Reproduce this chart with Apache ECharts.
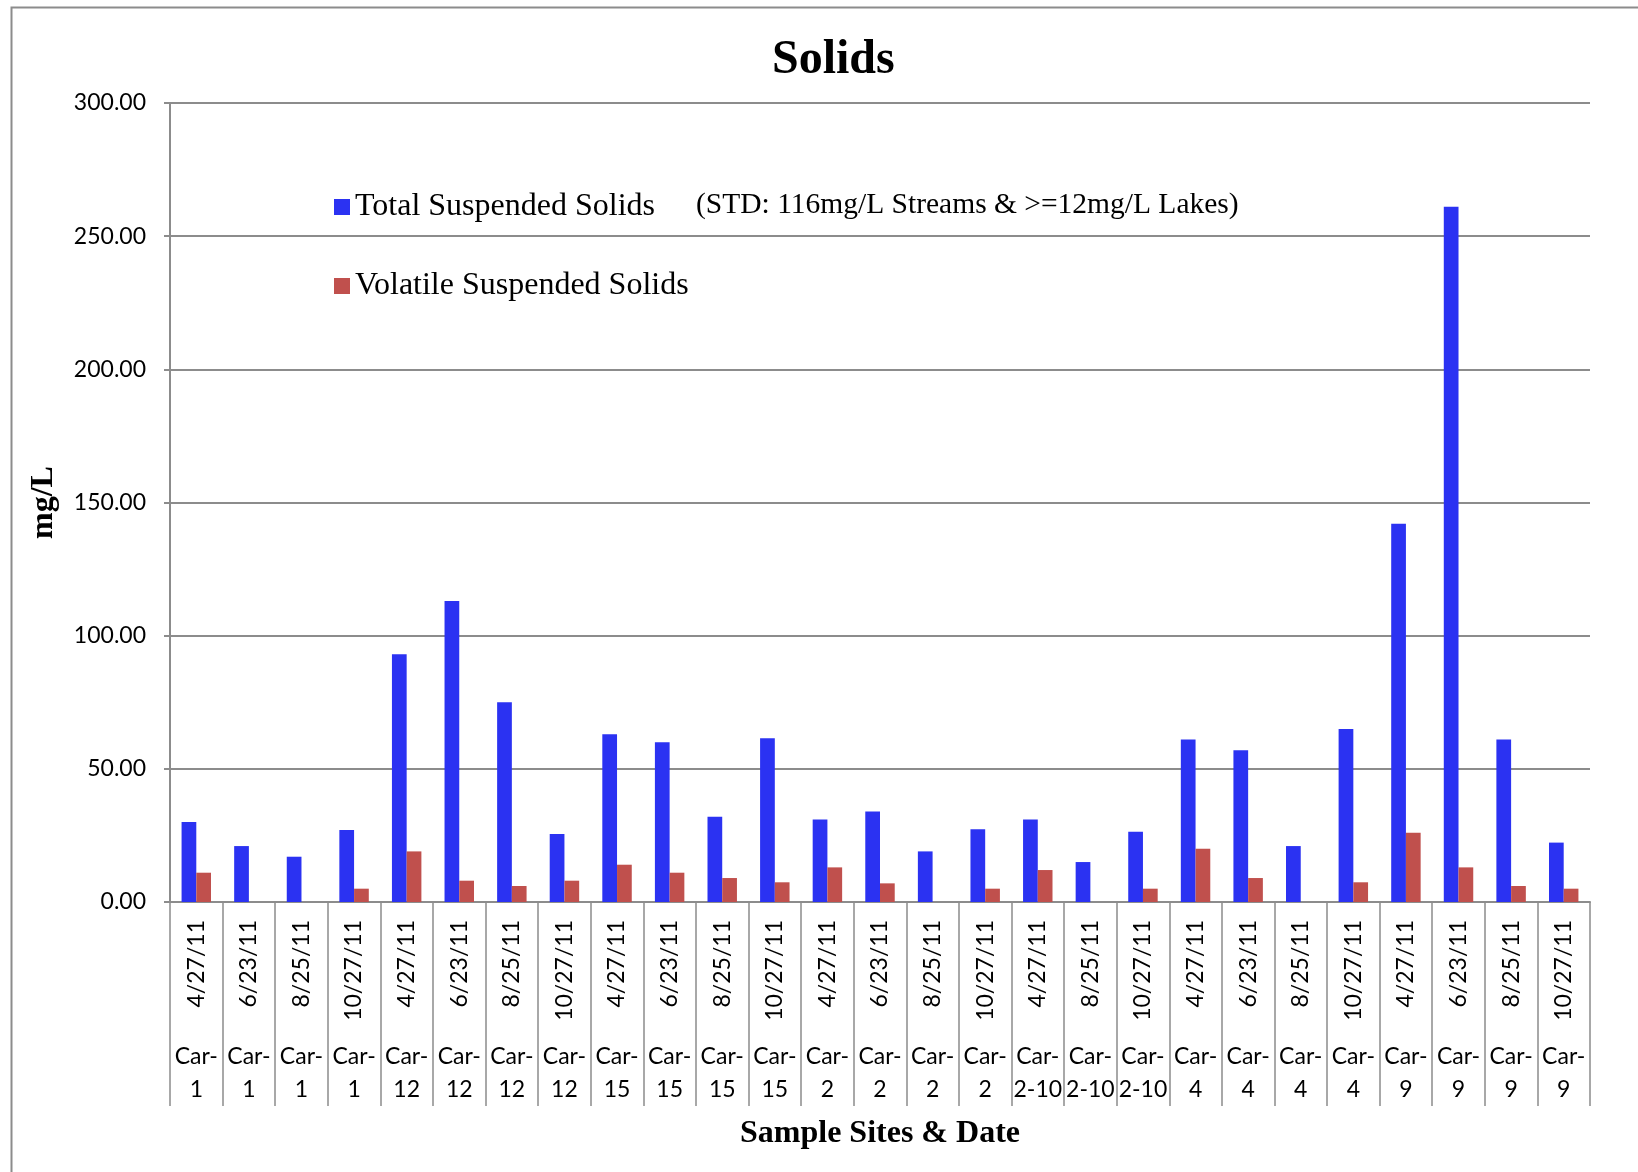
<!DOCTYPE html>
<html>
<head>
<meta charset="utf-8">
<script src="https://cdn.jsdelivr.net/npm/echarts@6/dist/echarts.min.js"></script>
<style>
  html, body { margin: 0; padding: 0; background: #fff; }
  #main { width: 1638px; height: 1172px; }
</style>
</head>
<body>
<div id="main"></div>
<script>
  // categories: sampling date and site for every column
  var dates = ['4/27/11', '6/23/11', '8/25/11', '10/27/11',
    '4/27/11', '6/23/11', '8/25/11', '10/27/11',
    '4/27/11', '6/23/11', '8/25/11', '10/27/11',
    '4/27/11', '6/23/11', '8/25/11', '10/27/11',
    '4/27/11', '8/25/11', '10/27/11',
    '4/27/11', '6/23/11', '8/25/11', '10/27/11',
    '4/27/11', '6/23/11', '8/25/11', '10/27/11'];
  var sites = ['1', '1', '1', '1', '12', '12', '12', '12', '15', '15', '15', '15',
    '2', '2', '2', '2', '2-10', '2-10', '2-10', '4', '4', '4', '4', '9', '9', '9', '9'];

  // mg/L
  var tss = [30, 21, 17, 27, 93, 113, 75, 25.5, 63, 60, 32, 61.5, 31, 34, 19, 27.3,
    31, 15, 26.4, 61, 57, 21, 65, 142, 261, 61, 22.3];
  var vss = [11, 0, 0, 5, 19, 8, 6, 8, 14, 11, 9, 7.4, 13, 7, 0, 5,
    12, 0, 5, 20, 9, 0, 7.4, 26, 13, 6, 5];

  var yTicks = [0, 50, 100, 150, 200, 250, 300];

  var serif = '"Liberation Serif", "Times New Roman", serif';
  var sans = 'Lato, "Noto Sans", sans-serif';
  var gray = '#8c8c8c';

  var myChart = echarts.init(document.getElementById('main'));

  var option = {
    backgroundColor: '#fff',
    animation: false,
    title: {
      text: 'Solids',
      left: 767,
      top: 32,
      textStyle: { fontFamily: serif, fontSize: 48, fontWeight: 'bold', color: '#000' }
    },
    legend: {
      orient: 'vertical',
      left: 329,
      top: 185,
      itemWidth: 16,
      itemHeight: 16,
      itemGap: 45,
      icon: 'rect',
      textStyle: { fontFamily: serif, fontSize: 32, color: '#000', lineHeight: 34 },
      data: ['Total Suspended Solids', 'Volatile Suspended Solids']
    },
    graphic: [
      {
        type: 'rect',
        shape: { x: 11.5, y: 7.5, width: 1700, height: 1300 },
        style: { fill: 'none', stroke: gray, lineWidth: 2 },
        silent: true
      },
      {
        type: 'text',
        left: 696,
        top: 190,
        style: {
          text: '(STD: 116mg/L Streams & >=12mg/L Lakes)',
          font: '29.5px ' + serif,
          fill: '#000'
        }
      }
    ],
    grid: { left: 170, right: 48, top: 103, bottom: 270 },
    xAxis: [
      {
        type: 'category',
        data: dates,
        axisLine: { lineStyle: { color: gray, width: 2 } },
        axisTick: { show: true, interval: 0, length: 204, lineStyle: { color: gray, width: 1.5 } },
        axisLabel: { interval: 0, rotate: 90, margin: 18, fontFamily: sans, fontSize: 23, color: '#000' }
      },
      {
        type: 'category',
        data: sites,
        position: 'bottom',
        offset: 130,
        axisLine: { show: false },
        axisTick: { show: false },
        axisLabel: {
          interval: 0, margin: 8, fontFamily: sans, fontSize: 23, color: '#000', lineHeight: 33,
          formatter: function (v) { return 'Car-\n' + v; }
        },
        name: 'Sample Sites & Date',
        nameLocation: 'middle',
        nameGap: 86,
        nameTextStyle: { fontFamily: serif, fontSize: 32, fontWeight: 'bold', color: '#000' }
      }
    ],
    yAxis: {
      type: 'value',
      min: yTicks[0],
      max: yTicks[yTicks.length - 1],
      interval: 50,
      name: 'mg/L',
      nameLocation: 'middle',
      nameGap: 110,
      nameTextStyle: { fontFamily: serif, fontSize: 32, fontWeight: 'bold', color: '#000' },
      axisLine: { show: true, lineStyle: { color: gray, width: 2 } },
      axisTick: { show: true, length: 6, lineStyle: { color: gray, width: 2 } },
      splitLine: { lineStyle: { color: gray, width: 2 } },
      axisLabel: {
        margin: 24, fontFamily: sans, fontSize: 23, color: '#000',
        formatter: function (v) { return v.toFixed(2); }
      }
    },
    series: [
      {
        name: 'Total Suspended Solids',
        type: 'bar',
        data: tss,
        barGap: '0%',
        barCategoryGap: '44%',
        itemStyle: { color: '#2b32f2' }
      },
      {
        name: 'Volatile Suspended Solids',
        type: 'bar',
        data: vss,
        barGap: '0%',
        barCategoryGap: '44%',
        itemStyle: { color: '#c0504d' }
      }
    ]
  };

  myChart.setOption(option);
</script>
</body>
</html>
